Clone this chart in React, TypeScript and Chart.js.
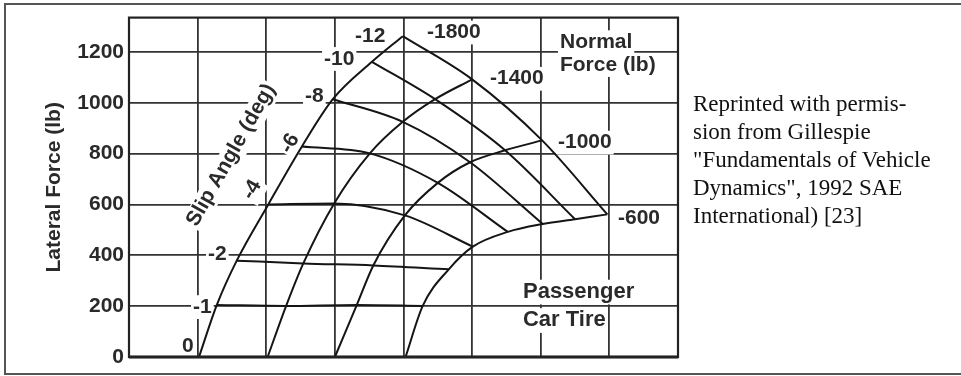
import React, { useEffect, useRef } from "react";
import { Chart, registerables } from "chart.js";

Chart.register(...registerables);

// ---- data (carpet plot) ----
const slipAngles = [0, -1, -2, -4, -6, -8, -10, -12]; // deg
const normalForces = [-1800, -1400, -1000, -600]; // lb
const yTicks = [0, 200, 400, 600, 800, 1000, 1200];

// carpet abscissa (horizontal offset of each node, no units) and lateral force (lb)
const carpetX1800 = [1.02, 1.28, 1.57, 2.03, 2.52, 2.97, 3.54, 3.99];
const lateral1800 = [0, 205, 379, 600, 828, 1014, 1161, 1262];
const carpetX1400 = [2.02, 2.29, 2.54, 2.99, 3.51, 3.99, 4.46, 5.0];
const lateral1400 = [0, 201, 368, 604, 801, 925, 1014, 1092];
const carpetX1000 = [3.0, 3.32, 3.56, 4.02, 4.5, 4.97, 5.48, 6.02];
const lateral1000 = [0, 205, 360, 557, 685, 766, 813, 852];
const carpetX600 = [4.03, 4.28, 4.66, 5.01, 5.52, 6.03, 6.5, 6.97];
const lateral600 = [0, 201, 345, 434, 492, 523, 542, 561];

const carpetX = [carpetX1800, carpetX1400, carpetX1000, carpetX600];
const lateral = [lateral1800, lateral1400, lateral1000, lateral600];

const SANS = '"Liberation Sans", Arial, sans-serif';
const INK = "#151515";
const GRID = "#333333";
const TEXT = "#2a2a2a";

type Lbl = { text: string; x: number; y: number; size: number; rot?: number; center?: boolean };

// annotation anchors in data coordinates (left/baseline unless centered)
const labels: Lbl[] = [
  { text: "0", x: 0.772, y: 19, size: 21 },
  { text: "-1", x: 0.933, y: 174, size: 21 },
  { text: "-2", x: 1.151, y: 383, size: 21 },
  { text: "-4", x: 1.792, y: 658, size: 21, rot: -60, center: true },
  { text: "-6", x: 2.346, y: 840, size: 21, rot: -60, center: true },
  { text: "-8", x: 2.565, y: 1003, size: 21 },
  { text: "-10", x: 2.842, y: 1150, size: 21 },
  { text: "-12", x: 3.294, y: 1239, size: 21 },
  { text: "Slip Angle (deg)", x: 1.486, y: 794, size: 21, rot: -60.5, center: true },
  { text: "-1800", x: 4.342, y: 1254, size: 21 },
  { text: "-1400", x: 5.26, y: 1072, size: 21 },
  { text: "-1000", x: 6.251, y: 821, size: 21 },
  { text: "-600", x: 7.125, y: 523, size: 21 },
  { text: "Normal", x: 6.28, y: 1216, size: 21 },
  { text: "Force (lb)", x: 6.28, y: 1126, size: 21 },
  { text: "Passenger", x: 5.741, y: 232, size: 22 },
  { text: "Car Tire", x: 5.741, y: 120, size: 22 },
];

const fontOf = (size: number) => `bold ${size}px ${SANS}`;

const carpetLabels = {
  id: "carpetLabels",
  beforeDatasetsDraw(chart: any) {
    const { ctx, scales } = chart;
    ctx.save();
    ctx.fillStyle = "#ffffff";
    for (const l of labels) {
      const px = scales.x.getPixelForValue(l.x);
      const py = scales.y.getPixelForValue(l.y);
      ctx.font = fontOf(l.size);
      const w = ctx.measureText(l.text).width;
      const asc = l.size * 0.74;
      const desc = l.size * 0.2;
      ctx.save();
      ctx.translate(px, py);
      if (l.rot) ctx.rotate((l.rot * Math.PI) / 180);
      if (l.center) {
        ctx.fillRect(-w / 2 - 2, -asc / 2 - 3, w + 4, asc + desc + 4);
      } else {
        ctx.fillRect(-2, -asc - 2, w + 4, asc + desc + 4);
      }
      ctx.restore();
    }
    ctx.restore();
  },
  afterDatasetsDraw(chart: any) {
    const { ctx, scales, chartArea } = chart;
    ctx.save();
    ctx.strokeStyle = "#222";
    ctx.lineWidth = 2.2;
    ctx.strokeRect(chartArea.left, chartArea.top, chartArea.right - chartArea.left, chartArea.bottom - chartArea.top);
    ctx.lineWidth = 3;
    ctx.beginPath();
    ctx.moveTo(chartArea.left, chartArea.bottom);
    ctx.lineTo(chartArea.right, chartArea.bottom);
    ctx.stroke();
    ctx.fillStyle = TEXT;
    for (const l of labels) {
      const px = scales.x.getPixelForValue(l.x);
      const py = scales.y.getPixelForValue(l.y);
      ctx.font = fontOf(l.size);
      ctx.save();
      ctx.translate(px, py);
      if (l.rot) ctx.rotate((l.rot * Math.PI) / 180);
      if (l.center) {
        ctx.textAlign = "center";
        ctx.textBaseline = "middle";
      } else {
        ctx.textAlign = "left";
        ctx.textBaseline = "alphabetic";
      }
      ctx.fillText(l.text, 0, 0);
      ctx.restore();
    }
    ctx.restore();
  },
};

export default function App() {
  const ref = useRef<HTMLCanvasElement | null>(null);

  useEffect(() => {
    if (!ref.current) return;
    const forceSets = normalForces.map((fz, i) => ({
      label: `Fz ${fz}`,
      data: slipAngles.map((_, j) => ({ x: carpetX[i][j], y: lateral[i][j] })),
      showLine: true,
      borderColor: INK,
      borderWidth: 2,
      pointRadius: 0,
      cubicInterpolationMode: "monotone" as const,
      clip: 2,
    }));
    const slipSets = slipAngles.map((a, j) => ({
      label: `Slip ${a}`,
      data: normalForces.map((_, i) => ({ x: carpetX[i][j], y: lateral[i][j] })),
      showLine: true,
      borderColor: INK,
      borderWidth: 2,
      pointRadius: 0,
      cubicInterpolationMode: "monotone" as const,
      clip: 2,
    }));

    const chart = new Chart(ref.current, {
      type: "scatter",
      data: { datasets: [...forceSets, ...slipSets] },
      options: {
        animation: false,
        responsive: false,
        maintainAspectRatio: false,
        layout: { padding: { left: 8, top: 12, right: 283, bottom: 19 } },
        plugins: { legend: { display: false }, tooltip: { enabled: false } },
        scales: {
          x: {
            type: "linear",
            min: 0,
            max: 8,
            ticks: { display: false, stepSize: 1 },
            grid: { color: GRID, lineWidth: 1.8, drawTicks: false },
            border: { display: false },
            afterFit: (s: any) => {
              s.height = 0;
            },
          },
          y: {
            type: "linear",
            min: 0,
            max: 1335,
            afterBuildTicks: (s: any) => {
              s.ticks = yTicks.map((v) => ({ value: v }));
            },
            ticks: {
              font: { family: SANS, size: 21, weight: "bold" },
              color: TEXT,
              padding: 5,
              callback: (v: any) => String(v),
            },
            grid: { color: GRID, lineWidth: 1.8, drawTicks: false },
            border: { display: false },
            title: {
              display: true,
              text: "Lateral Force (lb)",
              font: { family: SANS, size: 21, weight: "bold" },
              color: TEXT,
              padding: { top: 34, bottom: 0 },
            },
            afterFit: (s: any) => {
              s.width = 121;
            },
          },
        },
      },
      plugins: [carpetLabels],
    });
    return () => chart.destroy();
  }, []);

  return (
    <div
      style={{
        position: "absolute",
        left: 0,
        top: 0,
        width: 961,
        height: 376,
        background: "#fff",
        overflow: "hidden",
      }}
    >
      <canvas ref={ref} width={961} height={376} style={{ position: "absolute", left: 0, top: 0, width: 961, height: 376 }} />
      <div
        style={{
          position: "absolute",
          left: 4,
          top: 3,
          width: 1000,
          height: 368,
          border: "2px solid #555",
          pointerEvents: "none",
        }}
      />
      <div
        style={{
          position: "absolute",
          left: 693,
          top: 90,
          fontFamily: '"Liberation Serif", "Times New Roman", serif',
          fontSize: 23,
          lineHeight: "28px",
          color: "#111",
          whiteSpace: "pre",
        }}
      >
        {'Reprinted with permis-\nsion from Gillespie\n"Fundamentals of Vehicle\nDynamics", 1992 SAE\nInternational) [23]'}
      </div>
    </div>
  );
}
